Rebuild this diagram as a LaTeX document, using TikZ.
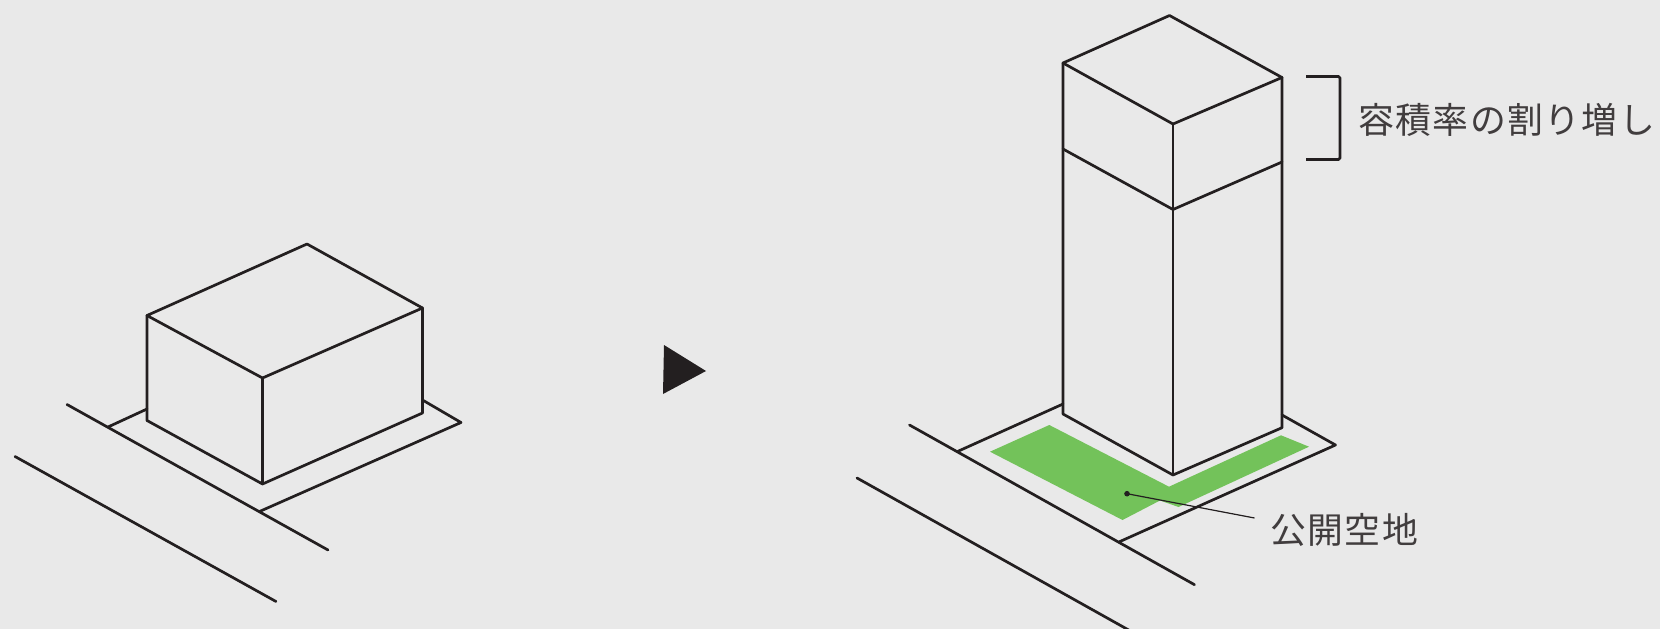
\documentclass[tikz,border=0pt]{standalone}
\usepackage{fontspec}
\newfontfamily\cjk[LetterSpace=4]{Noto Sans CJK JP}
\definecolor{bgc}{HTML}{E9E9E9}
\definecolor{ink}{HTML}{231F20}
\definecolor{grn}{HTML}{73C25A}
\tikzset{
  x=1bp,y=-1bp,
  edge/.style={draw=ink,line width=2.7bp,line join=round,line cap=round},
  leader/.style={draw=ink,line width=1.2bp},
  lbl/.style={font=\cjk\fontsize{36}{39}\selectfont,text=ink!85!bgc,inner sep=0pt,anchor=west}
}
\begin{document}
\begin{tikzpicture}
\path[use as bounding box,fill=bgc] (0,0) rectangle (1660,629);
\clip (0,0) rectangle (1660,629);
% left building
\coordinate (ltl) at (147,315.5);
\coordinate (ltb) at (307,244);
\coordinate (ltr) at (422.5,308);
\coordinate (ltf) at (262.5,378);
\coordinate (lbl) at (147,420.5);
\coordinate (lbf) at (262.5,484);
\coordinate (lbr) at (422.5,413);
\draw[edge] (ltl)--(ltb)--(ltr)--(ltf)--cycle;
\draw[edge] (ltl)--(lbl)--(lbf)--(lbr)--(ltr);
\draw[edge] (ltf)--(lbf);
% left site and roads
\coordinate (lsa) at (108,427);
\coordinate (lsb) at (147,409);
\coordinate (lsc) at (422.5,400);
\coordinate (lsd) at (461,422.5);
\coordinate (lse) at (259.5,511.5);
\coordinate (lra) at (67,404.5);
\coordinate (lrb) at (328,550);
\coordinate (lrc) at (15,456.5);
\coordinate (lrd) at (276,601.5);
\draw[edge] (lsa)--(lsb);
\draw[edge] (lsc)--(lsd)--(lse);
\draw[edge] (lra)--(lrb);
\draw[edge] (lrc)--(lrd);
% arrow
\coordinate (ta) at (664,345);
\coordinate (tb) at (706,371);
\coordinate (tc) at (663,394);
\fill[ink] (ta)--(tb)--(tc)--cycle;
% green open space
\coordinate (g1) at (990,451.7);
\coordinate (g2) at (1049.3,425);
\coordinate (g3) at (1169,486.7);
\coordinate (g4) at (1281,435.3);
\coordinate (g5) at (1309,446.7);
\coordinate (g6) at (1178.5,507);
\coordinate (g7) at (1160,500.5);
\coordinate (g8) at (1122.5,520);
\fill[grn] (g1)--(g2)--(g3)--(g4)--(g5)--(g6)--(g7)--(g8)--cycle;
% right building
\coordinate (rtl) at (1063,63);
\coordinate (rtb) at (1169.5,15.5);
\coordinate (rtr) at (1282,77.5);
\coordinate (rtf) at (1173,124);
\coordinate (rml) at (1063,149);
\coordinate (rmf) at (1173,209.5);
\coordinate (rmr) at (1282,162);
\coordinate (rbl) at (1063,414);
\coordinate (rbf) at (1173,475);
\coordinate (rbr) at (1282,427.7);
\draw[edge] (rtl)--(rtb)--(rtr)--(rtf)--cycle;
\draw[edge] (rtl)--(rbl)--(rbf)--(rbr)--(rtr);
\draw[edge] (rtf)--(rbf);
\draw[edge] (rml)--(rmf)--(rmr);
% right site and roads
\coordinate (rsa) at (957,451.7);
\coordinate (rsb) at (1063,404);
\coordinate (rsc) at (1282,415);
\coordinate (rsd) at (1335.5,445);
\coordinate (rse) at (1119.5,541.7);
\coordinate (rra) at (909.5,425);
\coordinate (rrb) at (1194.5,584.7);
\coordinate (rrc) at (857,478);
\coordinate (rrd) at (1134,633);
\draw[edge] (rsa)--(rsb);
\draw[edge] (rsc)--(rsd)--(rse);
\draw[edge] (rra)--(rrb);
\draw[edge] (rrc)--(rrd);
% bracket
\coordinate (bra) at (1306,76.5);
\coordinate (brb) at (1340,76.5);
\coordinate (brc) at (1340,159.5);
\coordinate (brd) at (1306,159.5);
\draw[edge,line cap=butt,rounded corners=1.5bp] (bra)--(brb)--(brc)--(brd);
% labels
\node[lbl] (far) at (1358,119.5) {容積率の割り増し};
\node[lbl] (kokai) at (1270,530) {公開空地};
\coordinate (dot) at (1127,493.7);
\coordinate (lend) at (1254.5,518);
\fill[ink] (dot) circle (2.8bp);
\draw[leader] (dot)--(lend);
\end{tikzpicture}
\end{document}
